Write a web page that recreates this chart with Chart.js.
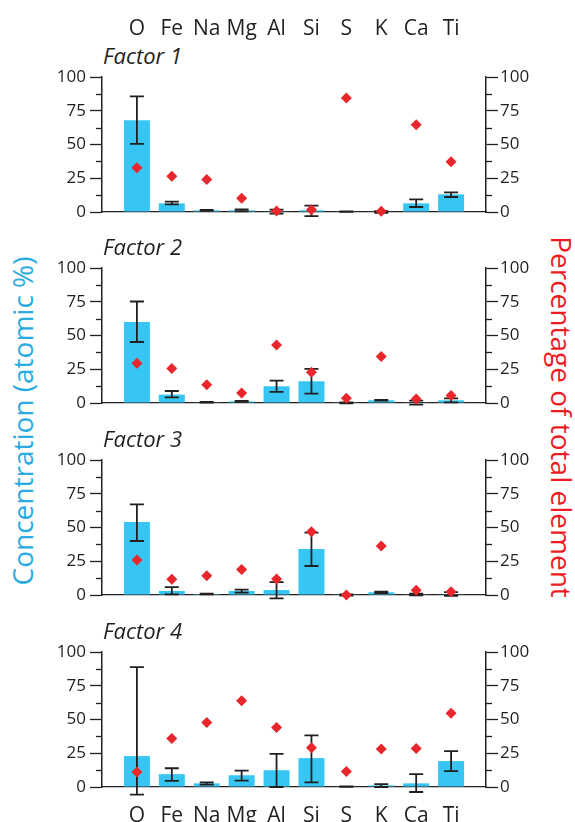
<!DOCTYPE html>
<html lang="en">
<head>
    <meta charset="UTF-8">
    <title>Factors - element concentration</title>
    <script src="https://cdn.jsdelivr.net/npm/chart.js"></script>
    <style>
        body { margin: 0; background: #fff; }
        #wrap { position: relative; width: 575px; height: 822px; overflow: hidden; font-family: 'Open Sans', sans-serif; }
        #wrap canvas { position: absolute; left: 0; }
        .factor { position: absolute; left: 103px; font-size: 22px; font-style: italic; color: #231f20; line-height: 1; transform: translateY(-50%); }
        .ytitle { position: absolute; font-size: 28px; line-height: 1; white-space: nowrap; }
        #leftTitle { left: 22px; top: 421px; color: #29abe2; transform: translate(-50%, -50%) rotate(-90deg); }
        #rightTitle { left: 562px; top: 417px; color: #ed1c24; transform: translate(-50%, -50%) rotate(90deg); }
    </style>
</head>
<body>
<div id="wrap">
    <div class="ytitle" id="leftTitle">Concentration (atomic %)</div>
    <div class="ytitle" id="rightTitle">Percentage of total element</div>
</div>

<script>
    // data
    const elements = ['O', 'Fe', 'Na', 'Mg', 'Al', 'Si', 'S', 'K', 'Ca', 'Ti'];
    const factorNames = ['Factor 1', 'Factor 2', 'Factor 3', 'Factor 4'];
    const majorTicks = [0, 25, 50, 75, 100];
    const minorTicks = [12.5, 37.5, 62.5, 87.5];

    // concentration (atomic %), bars
    const conc1 = [68, 6.4, 1.2, 1.2, 0.5, 1.2, 0.3, 0.3, 6.4, 13.1];
    const conc2 = [60, 6.2, 0.5, 1.2, 12.4, 16.1, 0.2, 2, 0.5, 2];
    const conc3 = [54, 3, 0.7, 3, 3.7, 34, 0.2, 2, 0.5, 0.5];
    const conc4 = [22.9, 9.5, 2.7, 8.7, 12.4, 21.4, 0.3, 1.2, 2.7, 19.2];

    // error bar ends
    const errLow1 = [50.4, 5.7, 0.8, 0.5, -1.2, -3, 0.1, -0.7, 3.7, 11.1];
    const errHigh1 = [85.7, 7.7, 1.5, 2, 1.7, 4.7, 0.5, 0.7, 9.4, 14.6];
    const errLow2 = [45.2, 4.2, 0.3, 0.9, 8.2, 6.9, -0.2, 1.7, -1.2, 0.5];
    const errHigh2 = [75.2, 8.9, 0.9, 1.6, 16.6, 25.3, 0.4, 2.3, 1.7, 3.5];
    const errLow3 = [40, 0.5, 0.5, 1.7, -2.5, 21.5, -0.4, 1.5, -0.2, -0.7];
    const errHigh3 = [67.2, 5.9, 1, 4, 9.6, 46.2, 0.5, 2.5, 1, 2.2];
    const errLow4 = [-5.7, 4.5, 1.7, 4.7, 0, 3.5, 0.1, 0, -3.7, 11.7];
    const errHigh4 = [88.8, 13.9, 3.5, 12.2, 24.6, 38.3, 0.5, 2.2, 9.5, 26.6];

    // percentage of total element, red diamonds
    const pct1 = [32.8, 26.4, 24, 10.1, 0.7, 1.7, 84.4, 0.5, 64.7, 37.3];
    const pct2 = [29.5, 25.6, 13.6, 7.4, 42.9, 22.8, 3.5, 34.5, 3, 5.5];
    const pct3 = [25.9, 11.6, 14.3, 18.8, 11.9, 46.9, 0, 36.3, 3.5, 2.5];
    const pct4 = [11.2, 36, 47.8, 63.9, 44, 29.1, 11.4, 28.1, 28.6, 54.7];

    const factors = [
        { name: factorNames[0], conc: conc1, lo: errLow1, hi: errHigh1, pct: pct1 },
        { name: factorNames[1], conc: conc2, lo: errLow2, hi: errHigh2, pct: pct2 },
        { name: factorNames[2], conc: conc3, lo: errLow3, hi: errHigh3, pct: pct3 },
        { name: factorNames[3], conc: conc4, lo: errLow4, hi: errHigh4, pct: pct4 }
    ];

    const ink = '#231f20';
    const barBlue = '#37c6f3';
    const red = '#e8262b';
    const font = "'Open Sans', sans-serif";

    // empty slot on each side so the first/last bar sit one step in from the axes
    const pad = arr => [null, ...arr, null];
    const xLabels = ['', ...elements, ''];

    // vertical line with caps from errLow to errHigh, drawn right after the bars
    const errorBars = {
        id: 'errorBars',
        afterDatasetDraw(chart, args) {
            const ds = chart.data.datasets[args.index];
            if (!ds.errLow) return;
            const xs = chart.scales.x, ys = chart.scales.y;
            const ctx = chart.ctx;
            ctx.save();
            ctx.strokeStyle = ink;
            ctx.lineWidth = 1.8;
            ds.data.forEach((v, i) => {
                if (v === null) return;
                const px = xs.getPixelForValue(i);
                const lo = ys.getPixelForValue(ds.errLow[i]);
                const hi = ys.getPixelForValue(ds.errHigh[i]);
                ctx.beginPath();
                ctx.moveTo(px, lo); ctx.lineTo(px, hi);
                ctx.moveTo(px - 7, lo); ctx.lineTo(px + 7, lo);
                ctx.moveTo(px - 7, hi); ctx.lineTo(px + 7, hi);
                ctx.stroke();
            });
            ctx.restore();
        }
    };

    // short ticks halfway between the labelled ones
    const minorTickMarks = {
        id: 'minorTickMarks',
        afterDraw(chart) {
            const ctx = chart.ctx;
            ctx.save();
            ctx.strokeStyle = ink;
            ctx.lineWidth = 1.3;
            ['y', 'y2'].forEach(id => {
                const s = chart.scales[id];
                const left = s.position === 'left';
                const x0 = left ? s.right : s.left;
                minorTicks.forEach(v => {
                    const py = Math.round(s.getPixelForValue(v)) + 0.5;
                    ctx.beginPath();
                    ctx.moveTo(x0, py);
                    ctx.lineTo(x0 + (left ? -6 : 6), py);
                    ctx.stroke();
                });
            });
            ctx.restore();
        }
    };

    function yAxis(position, width) {
        return {
            position: position,
            min: 0,
            max: 100,
            afterBuildTicks: s => { s.ticks = majorTicks.map(v => ({ value: v })); },
            ticks: { color: ink, font: { family: font, size: 17 }, padding: position === 'left' ? 4 : 2 },
            grid: { drawOnChartArea: false, tickLength: 12, color: ink, tickWidth: 1.3 },
            border: { color: ink, width: 1.5 },
            afterFit: s => { s.width = width; }
        };
    }

    const chartTops = [77, 268, 460, 652];
    const plotHeight = 135;
    const wrap = document.getElementById('wrap');

    factors.forEach((f, n) => {
        const first = n === 0, last = n === factors.length - 1;

        const title = document.createElement('div');
        title.className = 'factor';
        title.style.top = (chartTops[n] - 22) + 'px';
        title.textContent = f.name;
        wrap.appendChild(title);

        const canvas = document.createElement('canvas');
        canvas.width = 575;
        canvas.height = 77 + plotHeight + 35;
        canvas.style.top = (chartTops[n] - 77) + 'px';
        wrap.appendChild(canvas);

        const scales = {
            x: {
                type: 'category',
                labels: xLabels,
                offset: false,
                grid: { display: false, drawTicks: false },
                border: { display: true, color: ink, width: 1.3 },
                ticks: {
                    display: last, autoSkip: false, maxRotation: 0, padding: 16,
                    color: ink, font: { family: font, size: 21 }
                },
                afterFit: s => { s.height = 35; }
            },
            y: yAxis('left', 102),
            y2: yAxis('right', 89)
        };
        if (first) {
            scales.xTop = {
                type: 'category',
                position: 'top',
                labels: xLabels,
                offset: false,
                grid: { display: false, drawTicks: false },
                border: { display: false },
                ticks: { autoSkip: false, maxRotation: 0, padding: 35, color: ink, font: { family: font, size: 21 } },
                afterFit: s => { s.height = 77; }
            };
        }

        new Chart(canvas.getContext('2d'), {
            type: 'bar',
            data: {
                labels: xLabels,
                datasets: [{
                    label: 'Concentration (atomic %)',
                    data: pad(f.conc),
                    errLow: pad(f.lo),
                    errHigh: pad(f.hi),
                    backgroundColor: barBlue,
                    borderWidth: 0,
                    barPercentage: 0.745,
                    categoryPercentage: 1,
                    yAxisID: 'y',
                    order: 2
                }, {
                    type: 'line',
                    label: 'Percentage of total element',
                    data: pad(f.pct),
                    showLine: false,
                    pointStyle: 'rectRot',
                    pointRadius: 5.5,
                    pointBorderWidth: 0,
                    pointBackgroundColor: red,
                    yAxisID: 'y2',
                    clip: false,
                    order: 1
                }]
            },
            options: {
                responsive: false,
                animation: false,
                layout: { padding: { top: first ? 0 : 77, bottom: 0, left: 0, right: 0 } },
                plugins: { legend: { display: false }, tooltip: { enabled: false } },
                scales: scales
            },
            plugins: [errorBars, minorTickMarks]
        });
    });
</script>
</body>
</html>
